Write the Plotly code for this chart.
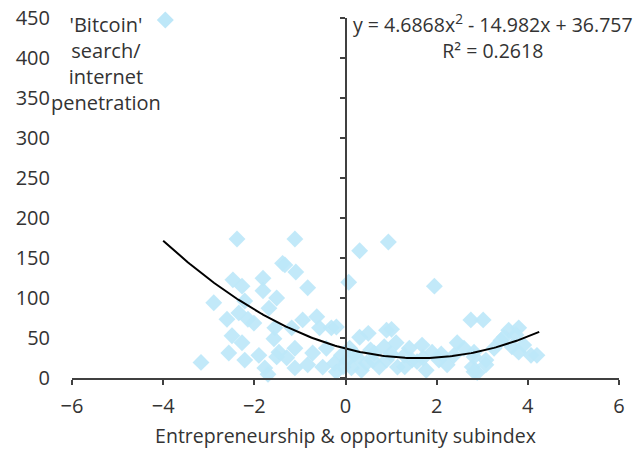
import numpy as np
import plotly.graph_objects as go

# Entrepreneurship & opportunity subindex (x) vs 'Bitcoin' search / internet penetration (y)
subindex = [
    -3.17, -2.89, -2.60, -2.47, -2.38, -2.27, -2.56, -2.49, -2.27, -2.34,
    -2.21, -2.14, -2.01, -2.21, -1.90, -1.81, -1.81, -1.77, -1.70, -1.51,
    -1.68, -1.55, -1.57, -1.46, -1.51, -1.38, -1.11, -1.33, -1.09, -0.83,
    -0.94, -0.63, -1.18, -0.57, -0.31, -0.20, -1.11, -1.29, -1.11, -0.72,
    -0.83, -0.50, -0.42, -0.24, -0.20, 0.09, 0.04, 0.26, 0.46, 0.63,
    0.74, 0.07, 0.31, 0.94, 0.50, 0.31, 0.90, 1.01, 1.95, 0.85,
    1.11, 1.40, 1.68, 1.90, 2.45, 2.60, 2.82, 0.90, 1.14, 1.46,
    1.77, 2.05, 2.23, 2.78, 2.89, 3.08, 2.75, 3.02, 3.58, 3.80,
    3.41, 3.26, 3.65, 3.91, 4.07, 4.20, 3.80, 2.82, 3.08, 2.82,
    3.48, 3.74, 1.29, 1.57, 2.38, 0.35, -0.09, 0.13,
    0.20, 0.60, 1.00, 1.30, 1.70, 2.10, -0.05, 0.55,
]
search = [
    19.5, 94, 73.5, 122.7, 173.8, 114.8, 31.3, 52.9, 44, 81.4,
    96.2, 73.5, 68.6, 22.4, 28.3, 124.7, 109, 12.6, 4.7, 100,
    87.3, 62.7, 49, 32.3, 26.4, 143.3, 173.8, 141.4, 132.5, 112.9,
    72.6, 76.5, 62.7, 62.7, 62.7, 63.7, 37.2, 25.4, 12.6, 31.3,
    16.5, 13.6, 37.2, 18.5, 7.7, 37.2, 22.4, 25.4, 18.5, 31.3,
    13.6, 119.7, 159, 170, 55.8, 51, 59.8, 60.8, 114.8, 39.1,
    44, 37.2, 41.1, 32.3, 44, 37.2, 32.3, 22.4, 13.6, 22.4,
    9.6, 22.4, 16.5, 13.6, 6.7, 22.4, 72.6, 72.6, 59.8, 62.7,
    47, 37.2, 39.1, 41.1, 28.3, 28.3, 32.3, 26.4, 16.5, 7.7,
    51, 53.9, 28.3, 20.5, 28.3, 9.6, 28.3, 12.6,
    30, 22, 30, 14, 25, 30, 14, 35,
]

# Polynomial trendline coefficients (order 2)
coef_a, coef_b, coef_c = 4.6868, -14.982, 36.757
r_squared = 0.2618
trend_x_range = [-4.0, 4.25]

x_ticks = [-6, -4, -2, 0, 2, 4, 6]
y_ticks = [0, 50, 100, 150, 200, 250, 300, 350, 400, 450]
legend_lines = ["'Bitcoin'", "search/", "internet", "penetration"]

FONT = "Open Sans"
TXT = "#333333"
AX = "#404040"
MARKER = "rgb(189,231,248)"

# plot-area geometry in pixels
W, H = 639, 449
ML, MR, MT, MB = 71.5, 19.5, 18, 71
PW, PH = W - ML - MR, H - MT - MB


def px_x(p):
    return (p - ML) / PW


def px_y(p):
    return (H - MB - p) / PH


tx = np.linspace(trend_x_range[0], trend_x_range[1], 200)
ty = coef_a * tx**2 + coef_b * tx + coef_c

fig = go.Figure()
fig.add_trace(go.Scatter(
    x=subindex, y=search, mode="markers",
    marker=dict(symbol="diamond", size=13, color=MARKER,
                opacity=0.92, line=dict(width=0)),
    cliponaxis=False, showlegend=False,
))
fig.add_trace(go.Scatter(
    x=tx, y=ty, mode="lines", line=dict(color="black", width=2),
    showlegend=False, hoverinfo="skip", cliponaxis=False,
))
# empty trace that activates the second y-axis
fig.add_trace(go.Scatter(x=[None], y=[None], yaxis="y2", showlegend=False,
                         hoverinfo="skip"))

fig.update_layout(
    width=W, height=H,
    margin=dict(l=ML, r=MR, t=MT, b=MB, autoexpand=False),
    paper_bgcolor="white", plot_bgcolor="white",
    font=dict(family=FONT, size=20, color=TXT),
    showlegend=False,
    xaxis=dict(
        range=[-6, 6], tickvals=x_ticks, showgrid=False, zeroline=False,
        showline=True, linecolor=AX, linewidth=2,
        ticks="outside", ticklen=5, tickwidth=2, tickcolor=AX,
        ticklabelstandoff=4, automargin=False,
        title=dict(text="Entrepreneurship & opportunity subindex",
                   font=dict(size=19.5), standoff=14),
        fixedrange=True,
    ),
    yaxis=dict(
        range=[0, 450], tickvals=y_ticks, showgrid=False, zeroline=False,
        showline=False, ticks="", ticklabelstandoff=21, automargin=False,
        fixedrange=True,
    ),
    # vertical axis line drawn through x = 0
    yaxis2=dict(
        range=[0, 450], tickvals=y_ticks, overlaying="y", anchor="free",
        position=0.5, side="left", showgrid=False, zeroline=False,
        showline=True, linecolor=AX, linewidth=2,
        ticks="outside", ticklen=5, tickwidth=2, tickcolor=AX,
        showticklabels=False, automargin=False, fixedrange=True,
    ),
)

# legend: series label with its diamond key
fig.add_annotation(
    text="<br>".join(legend_lines), xref="paper", yref="paper",
    x=px_x(106), y=px_y(63), align="center",
    xanchor="center", yanchor="middle", showarrow=False,
    font=dict(size=20, color=TXT),
)
fig.add_shape(
    type="path", xref="paper", yref="paper",
    xsizemode="pixel", ysizemode="pixel",
    xanchor=px_x(165), yanchor=px_y(20),
    path="M 0 8.5 L 8.5 0 L 0 -8.5 L -8.5 0 Z",
    fillcolor=MARKER, line=dict(width=0),
)

# trendline equation and goodness of fit
fig.add_annotation(
    text=(f"y = {coef_a}x<sup>2</sup> - {abs(coef_b)}x + {coef_c}"
          f"<br>R² = {r_squared}"),
    xref="paper", yref="paper", x=px_x(493), y=px_y(36), align="center",
    xanchor="center", yanchor="middle", showarrow=False,
    font=dict(size=19.5, color=TXT),
)

fig.write_html("out.html")
